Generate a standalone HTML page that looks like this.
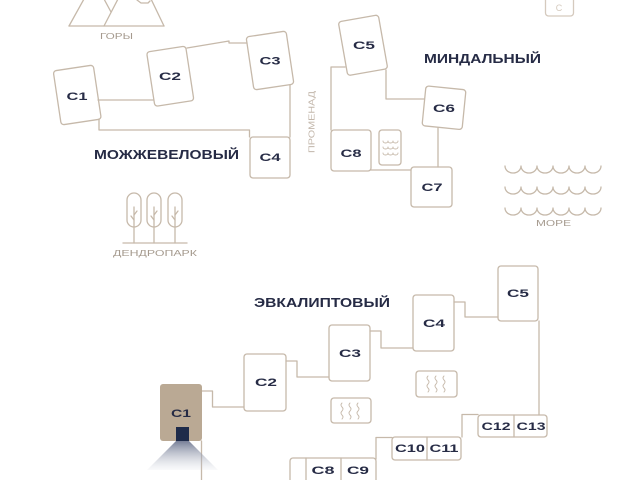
<!DOCTYPE html>
<html><head><meta charset="utf-8"><style>
html,body{margin:0;padding:0;background:#fff;}
svg{display:block;}
text{font-family:"Liberation Sans",sans-serif;}
.b{font-weight:bold;fill:#262b45;}
.s{fill:#a59a8e;}
</style></head><body>
<svg width="640" height="480" viewBox="0 0 640 480" xmlns="http://www.w3.org/2000/svg">
<defs>
<linearGradient id="beam" x1="0" y1="0" x2="0" y2="1">
<stop offset="0" stop-color="#6f7891" stop-opacity="0.95"/>
<stop offset="1" stop-color="#c9cdd8" stop-opacity="0.1"/>
</linearGradient>
</defs>
<rect width="640" height="480" fill="#fff"/>
<g fill="none" stroke="#c6b9aa" stroke-width="1.3" stroke-linejoin="round" stroke-linecap="round">
<!-- mountains -->
<line x1="69" y1="26" x2="164" y2="26"/>
<line x1="69" y1="26" x2="84" y2="-1"/>
<line x1="104" y1="-1" x2="111" y2="12"/>
<line x1="104" y1="26" x2="118" y2="-1"/>
<line x1="164" y1="26" x2="151" y2="-1"/>
<polyline points="137,0 141,3 148,3 150,1"/>
<!-- top-right box -->
<rect x="545.5" y="-6" width="28" height="22" rx="3" stroke="#d5cabe"/>
<!-- top connectors -->
<line x1="98" y1="100" x2="153" y2="100"/>
<polyline points="99,119 99,130 249.5,130 249.5,137"/>
<polyline points="187,48 229,41 229,43 247,43"/>
<line x1="290" y1="85" x2="290" y2="137"/>
<polyline points="345,67 331,67 331,130"/>
<polyline points="386,70 386,99 424,99"/>
<line x1="438" y1="128" x2="438" y2="167"/>
<line x1="371" y1="170" x2="411" y2="170"/>
<!-- top boxes -->
<rect x="57" y="67.7" width="40.5" height="54.6" rx="3" transform="rotate(-8.5 77.25 95)"/>
<rect x="150.5" y="48.75" width="39.5" height="55" rx="3" transform="rotate(-8.7 170.25 76.25)"/>
<rect x="249.8" y="33.7" width="40.4" height="53.6" rx="3" transform="rotate(-8.5 270 60.5)"/>
<rect x="250" y="137" width="40" height="41" rx="3"/>
<rect x="342.7" y="17.95" width="40.6" height="54.6" rx="3" transform="rotate(-10 363 45.25)"/>
<rect x="423.9" y="87.75" width="40.2" height="40" rx="3" transform="rotate(5.7 444 107.75)"/>
<rect x="331" y="130" width="40" height="41" rx="3"/>
<rect x="379" y="130" width="22" height="35" rx="3"/>
<rect x="411" y="167" width="41" height="40" rx="3"/>
<!-- small waves in box -->
<path d="M383,141 a2.5,2 0 0 0 5,0 a2.5,2 0 0 0 5,0 a2.5,2 0 0 0 5,0" stroke-width="0.9"/>
<path d="M383,147 a2.5,2 0 0 0 5,0 a2.5,2 0 0 0 5,0 a2.5,2 0 0 0 5,0" stroke-width="0.9"/>
<path d="M383,153 a2.5,2 0 0 0 5,0 a2.5,2 0 0 0 5,0 a2.5,2 0 0 0 5,0" stroke-width="0.9"/>
<!-- sea waves -->
<path d="M505,166 a8,7 0 0 0 16,0 a8,7 0 0 0 16,0 a8,7 0 0 0 16,0 a8,7 0 0 0 16,0 a8,7 0 0 0 16,0 a8,7 0 0 0 16,0"/>
<path d="M505,187 a8,7 0 0 0 16,0 a8,7 0 0 0 16,0 a8,7 0 0 0 16,0 a8,7 0 0 0 16,0 a8,7 0 0 0 16,0 a8,7 0 0 0 16,0"/>
<path d="M505,208 a8,7 0 0 0 16,0 a8,7 0 0 0 16,0 a8,7 0 0 0 16,0 a8,7 0 0 0 16,0 a8,7 0 0 0 16,0 a8,7 0 0 0 16,0"/>
<!-- trees -->
<rect x="127" y="193" width="14" height="34" rx="7"/>
<rect x="147" y="193" width="14" height="34" rx="7"/>
<rect x="168" y="193" width="14" height="34" rx="7"/>
<line x1="134" y1="207" x2="134" y2="243"/>
<line x1="154" y1="207" x2="154" y2="243"/>
<line x1="175" y1="207" x2="175" y2="243"/>
<polyline points="134,215 137,211"/><polyline points="134,220 131,216"/>
<polyline points="154,215 157,211"/><polyline points="154,220 151,216"/>
<polyline points="175,215 178,211"/><polyline points="175,220 172,216"/>
<line x1="123" y1="243" x2="187" y2="243"/>
<!-- bottom connectors -->
<polyline points="202,391 212.5,391 212.5,407 244,407"/>
<polyline points="286,361 297,361 297,377 329,377"/>
<polyline points="370,331 381,331 381,348 413,348"/>
<polyline points="454,302 465,302 465,317 498,317"/>
<line x1="539" y1="321" x2="539" y2="415"/>
<polyline points="478,414.5 462,414.5 462,437"/>
<polyline points="392,437.5 376,437.5 376,459"/>
<line x1="201.5" y1="441" x2="201.5" y2="481"/>
<!-- bottom boxes -->
<rect x="244" y="354" width="42" height="57" rx="3"/>
<rect x="329" y="325" width="41" height="56" rx="3"/>
<rect x="413" y="295" width="41" height="56" rx="3"/>
<rect x="498" y="266" width="40" height="55" rx="3"/>
<rect x="331" y="398" width="40" height="25" rx="3"/>
<rect x="416" y="371" width="41" height="26" rx="3"/>
<rect x="478" y="415" width="69" height="22" rx="3"/>
<line x1="514" y1="415" x2="514" y2="437"/>
<rect x="392" y="437" width="69" height="23" rx="3"/>
<line x1="427" y1="437" x2="427" y2="460"/>
<rect x="290" y="458" width="86" height="30" rx="3"/>
<line x1="306" y1="458" x2="306" y2="480"/>
<line x1="341" y1="458" x2="341" y2="480"/>
<!-- squiggles -->
<g stroke-width="0.9">
<path d="M342,403 q-2,2 0,4 q2,2 0,4 q-2,2 0,4 q2,2 0,4"/>
<path d="M350,403 q-2,2 0,4 q2,2 0,4 q-2,2 0,4 q2,2 0,4"/>
<path d="M358,403 q-2,2 0,4 q2,2 0,4 q-2,2 0,4 q2,2 0,4"/>
<path d="M428,376 q-2,2 0,4 q2,2 0,4 q-2,2 0,4 q2,2 0,4"/>
<path d="M436,376 q-2,2 0,4 q2,2 0,4 q-2,2 0,4 q2,2 0,4"/>
<path d="M444,376 q-2,2 0,4 q2,2 0,4 q-2,2 0,4 q2,2 0,4"/>
</g>
</g>
<!-- highlighted C1 -->
<polygon points="176,441 189,441 218,470 147,470" fill="url(#beam)"/>
<rect x="160" y="384" width="42" height="57" rx="3" fill="#baa994"/>
<rect x="176" y="427" width="13" height="14" fill="#1e2b4a"/>
<!-- faint C in top-right box -->
<text x="559" y="11" font-size="9" fill="#d5cabe" text-anchor="middle">C</text>
<!-- labels top -->
<g class="b" font-size="11" text-anchor="middle">
<text x="77" y="100" textLength="21" lengthAdjust="spacingAndGlyphs">C1</text>
<text x="170" y="80" textLength="22" lengthAdjust="spacingAndGlyphs">C2</text>
<text x="270" y="64.5" textLength="21" lengthAdjust="spacingAndGlyphs">C3</text>
<text x="270" y="161" textLength="21" lengthAdjust="spacingAndGlyphs">C4</text>
<text x="364" y="49" textLength="22" lengthAdjust="spacingAndGlyphs">C5</text>
<text x="444" y="112" textLength="22" lengthAdjust="spacingAndGlyphs">C6</text>
<text x="351" y="157" textLength="21" lengthAdjust="spacingAndGlyphs">C8</text>
<text x="432" y="191" textLength="21" lengthAdjust="spacingAndGlyphs">C7</text>
<text x="181" y="417" textLength="20" lengthAdjust="spacingAndGlyphs">C1</text>
<text x="266" y="386" textLength="22" lengthAdjust="spacingAndGlyphs">C2</text>
<text x="350" y="357" textLength="22" lengthAdjust="spacingAndGlyphs">C3</text>
<text x="434" y="327" textLength="22" lengthAdjust="spacingAndGlyphs">C4</text>
<text x="518" y="297" textLength="22" lengthAdjust="spacingAndGlyphs">C5</text>
<text x="496" y="430" textLength="29" lengthAdjust="spacingAndGlyphs">C12</text>
<text x="531" y="430" textLength="29" lengthAdjust="spacingAndGlyphs">C13</text>
<text x="410" y="452" textLength="30" lengthAdjust="spacingAndGlyphs">C10</text>
<text x="444" y="452" textLength="29" lengthAdjust="spacingAndGlyphs">C11</text>
<text x="323" y="474" textLength="23" lengthAdjust="spacingAndGlyphs">C8</text>
<text x="358" y="474" textLength="22" lengthAdjust="spacingAndGlyphs">C9</text>
</g>
<g class="b" font-size="12.5">
<text x="94" y="159" textLength="145" lengthAdjust="spacingAndGlyphs">МОЖЖЕВЕЛОВЫЙ</text>
<text x="424" y="63" textLength="117" lengthAdjust="spacingAndGlyphs">МИНДАЛЬНЫЙ</text>
<text x="254" y="307" textLength="136" lengthAdjust="spacingAndGlyphs">ЭВКАЛИПТОВЫЙ</text>
</g>
<g class="s" font-size="8">
<text x="100" y="39" textLength="33" lengthAdjust="spacingAndGlyphs">ГОРЫ</text>
<text x="113" y="256" textLength="84" lengthAdjust="spacingAndGlyphs">ДЕНДРОПАРК</text>
<text x="536" y="226" textLength="35" lengthAdjust="spacingAndGlyphs">МОРЕ</text>
<text x="0" y="0" textLength="62" lengthAdjust="spacingAndGlyphs" fill="#c2b6aa" transform="translate(314.5 153) rotate(-90)">ПРОМЕНАД</text>
</g>
</svg>
</body></html>
